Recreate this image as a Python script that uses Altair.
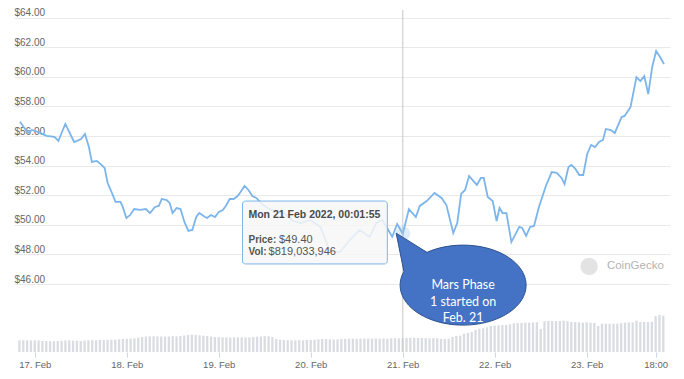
import altair as alt
import pandas as pd

# ---------------- data ----------------
# hours since 17 Feb 2022 00:00
price_hours = [-3.85, -1.80, -0.77, 0.77, 3.08, 5.14, 6.17, 7.97, 10.28, 12.08,
               13.10, 14.13, 14.90, 16.19, 17.21, 18.24, 19.01, 20.04, 21.07, 22.35,
               22.87, 23.90, 24.92, 25.95, 27.49, 29.03, 30.06, 31.35, 32.37, 33.14,
               34.43, 35.20, 35.97, 37.00, 38.03, 39.05, 40.08, 41.11, 42.14, 42.91,
               44.45, 44.96, 45.99, 47.02, 48.05, 49.07, 49.85, 50.87, 51.90, 52.93,
               53.70, 54.73, 55.76, 56.78, 57.81, 59.61, 61.66, 65.00, 67.32, 69.37,
               71.94, 74.51, 77.08, 79.65, 82.22, 84.79, 87.36, 89.16, 90.70, 93.27,
               94.55, 96.03, 97.63, 99.43, 100.46, 102.26, 104.32, 106.12, 107.40, 109.20,
               110.23, 111.25, 112.28, 113.31, 115.36, 116.39, 117.16, 118.19, 119.48, 120.50,
               121.27, 122.05, 123.07, 124.36, 126.41, 127.18, 128.21, 129.24, 130.27, 131.55,
               133.35, 134.89, 136.18, 137.46, 138.23, 139.26, 140.03, 141.06, 142.09, 143.11,
               144.14, 145.17, 146.20, 147.22, 148.25, 149.02, 150.31, 151.34, 153.13, 153.91,
               155.45, 156.99, 158.02, 159.04, 160.07, 161.10, 162.13, 163.16, 164.18]
price_usd = [56.97, 56.21, 56.41, 56.28, 56.01, 55.94, 55.67, 56.82, 55.60, 55.80,
             56.14, 55.26, 54.25, 54.32, 54.11, 53.84, 52.83, 52.22, 51.55, 51.55,
             51.28, 50.47, 50.67, 51.07, 51.01, 51.07, 50.80, 51.21, 51.28, 51.75,
             51.68, 51.48, 50.80, 51.14, 51.07, 50.20, 49.59, 49.66, 50.53, 50.80,
             50.53, 50.47, 50.67, 50.53, 50.87, 51.01, 51.28, 51.75, 51.75, 51.95,
             52.22, 52.63, 52.36, 51.95, 51.82, 51.34, 51.01, 50.80, 50.26, 50.13,
             50.33, 49.86, 48.17, 48.17, 48.98, 49.66, 49.18, 50.13, 50.33, 49.20,
             50.06, 49.40, 51.07, 50.53, 51.28, 51.61, 52.16, 51.82, 51.34, 49.45,
             50.13, 52.09, 52.36, 53.30, 52.70, 53.17, 53.17, 51.89, 51.61, 50.26,
             51.14, 50.80, 50.80, 48.84, 49.86, 49.79, 49.25, 49.86, 49.93, 51.21,
             52.63, 53.57, 53.51, 53.17, 52.76, 53.91, 54.05, 53.78, 53.37, 53.37,
             54.79, 55.40, 55.26, 55.60, 55.74, 56.48, 56.41, 56.21, 57.29, 57.36,
             57.97, 59.99, 59.72, 60.06, 58.84, 60.67, 61.75, 61.34, 60.87]

vol_hours = list(range(-4, 165))
vol_musd = [700, 705, 700, 695,
            700, 690, 660, 660, 650, 655,
            660, 670, 690, 700, 680, 670,
            660, 690, 700, 710, 700, 720,
            720, 730, 740, 740, 760, 780,
            790, 800, 820, 860, 900, 930,
            940, 940, 940, 930, 920, 930,
            950, 940, 960, 990, 1020, 1040,
            1030, 1000, 980, 960, 930, 900,
            890, 880, 880, 870, 880, 880,
            880, 870, 880, 900, 920, 930,
            950, 940, 900, 780, 740, 720,
            710, 700, 700, 710, 700, 720,
            730, 740, 760, 780, 770, 760,
            750, 760, 780, 790, 800, 800,
            790, 800, 810, 800, 800, 810,
            800, 810, 800, 820, 830, 820,
            819, 840, 850, 850, 840, 840,
            830, 820, 830, 820, 790, 780,
            800, 900, 960, 980, 1100, 1150,
            1200, 1330, 1400, 1420, 1480, 1560,
            1580, 1600, 1620, 1620, 1660, 1720,
            1740, 1740, 1760, 1760, 1780, 1790,
            1380, 1840, 1860, 1860, 1850, 1860,
            1880, 1850, 1800, 1800, 1780, 1760,
            1780, 1760, 1740, 1560, 1700, 1700,
            1690, 1700, 1700, 1730, 1760, 1770,
            1780, 1880, 1800, 1800, 1790, 1820,
            2150, 2220, 2180]

x_tick_hours = [0, 24, 48, 72, 96, 120, 144, 162]
y_tick_prices = [46, 48, 50, 52, 54, 56, 58, 60, 62, 64]

hover_hour = 96.03
hover_price = 49.40
tooltip_title = "Mon 21 Feb 2022, 00:01:55"
tooltip_labels = ["Price:", "Vol:"]
tooltip_values = ["$49.40", "$819,033,946"]
callout_text = "Mars Phase\n1 started on\nFeb. 21"
brand_text = "CoinGecko"

# ---------------- layout (data-space anchors for annotations) ----------------
X_DOMAIN = [-4.11, 164.44]
Y_DOMAIN = [41.41, 64.52]
V_DOMAIN = [0, 20520]
W, H = 656, 342
FONT = "Liberation Sans"

xs = alt.Scale(domain=X_DOMAIN, nice=False, zero=False)
ys = alt.Scale(domain=Y_DOMAIN, nice=False, zero=False)
vs = alt.Scale(domain=V_DOMAIN, nice=False, zero=False)

x_axis = alt.Axis(values=x_tick_hours,
                  labelExpr="datum.value == 162 ? '18:00' : (17 + datum.value/24) + '. Feb'",
                  domain=False, ticks=True, tickColor="#ccd6eb", tickSize=5,
                  labelPadding=2, labelColor="#666666", labelFontSize=9.5,
                  labelFont=FONT, grid=False, title=None, labelFlush=False,
                  labelOverlap=False)
y_axis = alt.Axis(values=y_tick_prices, format="$.2f", grid=True, gridColor="#e9e9e9",
                  domain=False, ticks=False, tickSize=0, labelAlign="left",
                  labelBaseline="bottom", labelPadding=0, labelOffset=0,
                  labelColor="#666666", labelFontSize=10, labelFont=FONT, title=None,
                  labelOverlap=False, labelFlush=False, tickCount=len(y_tick_prices))


def X(field):
    return alt.X(field, scale=xs, axis=x_axis)


def Y(field):
    return alt.Y(field, scale=ys, axis=y_axis)


price_df = pd.DataFrame({"h": price_hours, "p": price_usd})
vol_df = pd.DataFrame({"h": vol_hours, "v": vol_musd})

bars = alt.Chart(vol_df).mark_bar(size=2.3, color="#d9dce2").encode(
    x=X("h:Q"),
    y=alt.Y("v:Q", scale=vs, axis=None),
)

line = alt.Chart(price_df).mark_line(color="#7cb5ec", strokeWidth=1.8).encode(
    x=X("h:Q"), y=Y("p:Q"))

rule_df = pd.DataFrame({"h": [hover_hour], "top": [Y_DOMAIN[1]], "bot": [Y_DOMAIN[0]]})
rule = alt.Chart(rule_df).mark_rule(color="#c8c8c8", strokeWidth=1).encode(
    x=X("h:Q"), y=Y("top:Q"), y2="bot:Q")

hover_df = pd.DataFrame({"h": [hover_hour], "p": [hover_price]})
halo = alt.Chart(hover_df).mark_point(filled=True, color="#7cb5ec", opacity=0.25, size=220).encode(
    x=X("h:Q"), y=Y("p:Q"))

tip_df = pd.DataFrame({"h1": [54.21], "h2": [91.99], "p1": [51.61], "p2": [47.36]})
tip_box = alt.Chart(tip_df).mark_rect(fill="#f7f7f7", fillOpacity=0.85, stroke="#7cb5ec",
                                      strokeWidth=1, cornerRadius=3).encode(
    x=X("h1:Q"), x2="h2:Q", y=Y("p1:Q"), y2="p2:Q")

title_df = pd.DataFrame({"h": [55.76], "p": [50.70], "t": [tooltip_title]})
tip_title = alt.Chart(title_df).mark_text(align="left", baseline="middle", font=FONT,
                                          fontSize=10.5, fontWeight="bold", color="#4a4a4a").encode(
    x=X("h:Q"), y=Y("p:Q"), text="t:N")

lab_df = pd.DataFrame({"h": [55.76, 55.76], "p": [48.98, 48.15], "t": tooltip_labels})
tip_labels = alt.Chart(lab_df).mark_text(align="left", baseline="middle", font=FONT,
                                         fontSize=10, fontWeight="bold", color="#555555").encode(
    x=X("h:Q"), y=Y("p:Q"), text="t:N")

val_df = pd.DataFrame({"h": [63.72, 61.02], "p": [48.98, 48.15], "t": tooltip_values})
tip_values = alt.Chart(val_df).mark_text(align="left", baseline="middle", font=FONT,
                                         fontSize=11, color="#555555").encode(
    x=X("h:Q"), y=Y("p:Q"), text="t:N")

brand_dot_df = pd.DataFrame({"h": [144.65], "p": [47.2]})
brand_dot = alt.Chart(brand_dot_df).mark_point(filled=True, color="#e3e3e3", opacity=1, size=300).encode(
    x=X("h:Q"), y=Y("p:Q"))
brand_df = pd.DataFrame({"h": [149.28], "p": [47.2], "t": [brand_text]})
brand = alt.Chart(brand_df).mark_text(align="left", baseline="middle", font=FONT,
                                      fontSize=11.5, color="#b3b3b3").encode(
    x=X("h:Q"), y=Y("p:Q"), text="t:N")

callout_path = ("M -0.574 -0.520 L -1.063 -0.825 L -0.940 -0.217 "
                "A 1 0.635 0 1 0 -0.574 -0.520 Z")
callout_df = pd.DataFrame({"h": [111.77], "p": [45.93], "t": [callout_text]})
callout = alt.Chart(callout_df).mark_point(shape=callout_path, size=15876, filled=True,
                                           fill="#4472c4", stroke="#2f528f", strokeWidth=1,
                                           opacity=1, fillOpacity=1).encode(
    x=X("h:Q"), y=Y("p:Q"))
callout_label = alt.Chart(callout_df).mark_text(align="center", baseline="middle", font="Lato",
                                                fontSize=12.5, lineBreak="\n", lineHeight=16.5,
                                                color="white").encode(
    x=X("h:Q"), y=Y("p:Q"), text="t:N")

price_layers = alt.layer(line, rule, halo, tip_box, tip_title, tip_labels, tip_values,
                         brand_dot, brand, callout, callout_label)

chart = alt.layer(bars, price_layers).resolve_scale(y="independent").properties(
    width=W, height=H,
    autosize=alt.AutoSizeParams(type="none"),
    padding={"left": 6, "top": 2, "right": 6, "bottom": 20},
    background="white",
).configure_view(stroke=None)

chart.save("out.html", embed_options={"renderer": "svg", "actions": False})
